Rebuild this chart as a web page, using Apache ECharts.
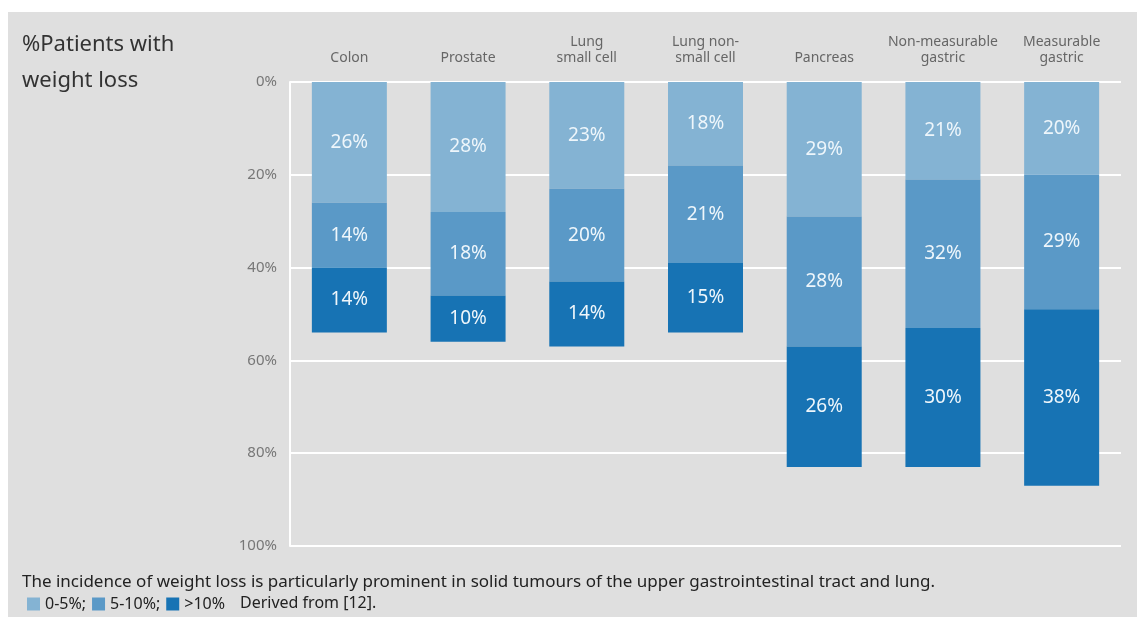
<!DOCTYPE html>
<html>
<head>
<meta charset="utf-8">
<script src="https://cdn.jsdelivr.net/npm/echarts@6/dist/echarts.min.js"></script>
<style>
  html, body { margin: 0; padding: 0; background: #fff; }
  #chart { width: 1137px; height: 617px; }
</style>
</head>
<body>
<div id="chart"></div>
<script>
const categories = ['Colon', 'Prostate', 'Lung\nsmall cell', 'Lung non-\nsmall cell', 'Pancreas', 'Non-measurable\ngastric', 'Measurable\ngastric'];
const loss0to5 = [26, 28, 23, 18, 29, 21, 20];
const loss5to10 = [14, 18, 20, 21, 28, 32, 29];
const lossOver10 = [14, 10, 14, 15, 26, 30, 38];
const yTicks = [0, 20, 40, 60, 80, 100];
const seriesNames = ['0-5%', '5-10%', '>10%'];

const colors = ['#84b3d3', '#5a99c7', '#1773b4'];
const font = 'Noto Sans';

const chart = echarts.init(document.getElementById('chart'));

const makeSeries = (name, data, color) => ({
  name: name,
  type: 'bar',
  stack: 'loss',
  barWidth: 75,
  data: data,
  itemStyle: { color: color },
  label: {
    show: true,
    position: 'inside',
    formatter: '{c}%',
    color: '#eef6fb',
    fontFamily: font,
    fontSize: 19
  }
});

const option = {
  backgroundColor: '#ffffff',
  textStyle: { fontFamily: font },
  graphic: [
    { type: 'rect', z: -10, shape: { x: 8, y: 12, width: 1129, height: 605 }, style: { fill: '#dfdfdf' } },
    {
      type: 'text', left: 22, top: 27,
      style: { text: '%Patients with\nweight loss', fill: '#333', font: '22px "Noto Sans"', lineHeight: 36 }
    },
    {
      type: 'text', left: 22, top: 574,
      style: { text: 'The incidence of weight loss is particularly prominent in solid tumours of the upper gastrointestinal tract and lung.', fill: '#222', font: '17px "Noto Sans"' }
    },
    {
      type: 'text', left: 240, top: 595,
      style: { text: 'Derived from [12].', fill: '#222', font: '16px "Noto Sans"' }
    }
  ],
  legend: {
    left: 22,
    top: 591,
    itemWidth: 13,
    itemHeight: 13,
    itemGap: 6,
    icon: 'rect',
    data: seriesNames,
    formatter: name => name === '>10%' ? name : name + ';',
    textStyle: { color: '#222', fontSize: 16, fontFamily: font }
  },
  grid: { left: 290, right: 16, top: 82, bottom: 71 },
  xAxis: {
    type: 'category',
    position: 'top',
    data: categories,
    axisLine: { show: false },
    axisTick: { show: false },
    axisLabel: {
      interval: 0,
      color: '#666',
      fontSize: 14,
      lineHeight: 16,
      margin: 16,
      fontFamily: font
    }
  },
  yAxis: {
    type: 'value',
    inverse: true,
    min: 0,
    max: 100,
    interval: 20,
    axisLine: { show: true, lineStyle: { color: '#ffffff', width: 2 } },
    axisTick: { show: false },
    axisLabel: {
      color: '#777',
      fontSize: 15,
      margin: 13,
      fontFamily: font,
      formatter: v => yTicks.includes(v) ? v + '%' : ''
    },
    splitLine: { show: true, lineStyle: { color: '#ffffff', width: 2 } }
  },
  series: [
    makeSeries(seriesNames[0], loss0to5, colors[0]),
    makeSeries(seriesNames[1], loss5to10, colors[1]),
    makeSeries(seriesNames[2], lossOver10, colors[2])
  ]
};

chart.setOption(option);
window.addEventListener('resize', () => chart.resize());
</script>
</body>
</html>
